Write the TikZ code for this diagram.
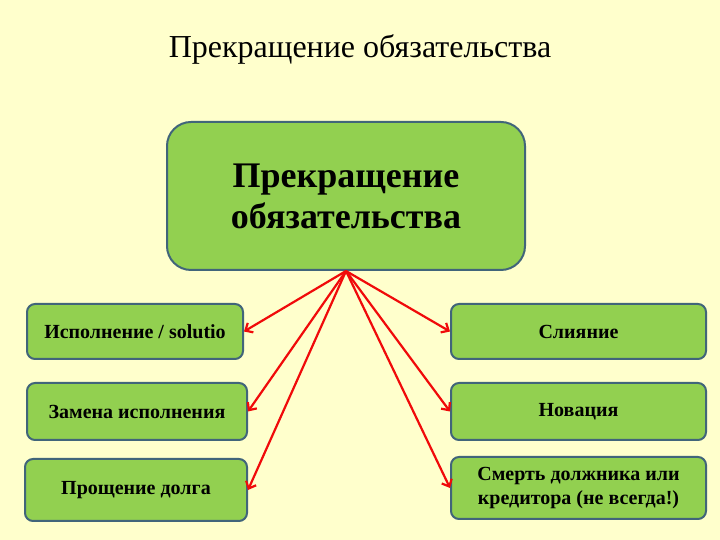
\documentclass[tikz,border=0pt]{standalone}
\usepackage{fontspec}
\setmainfont{Liberation Serif}
\usetikzlibrary{arrows.meta}
\definecolor{bg}{HTML}{FFFFCC}
\definecolor{boxfill}{HTML}{92D050}
\definecolor{boxline}{HTML}{41657A}
\definecolor{arr}{HTML}{F00A0A}
\tikzset{
  mainbox/.style={draw=boxline, fill=boxfill, line width=2pt, rounded corners=24pt, inner sep=0pt, align=center, font=\fontsize{36}{41}\selectfont\bfseries},
  subbox/.style={draw=boxline, fill=boxfill, line width=2pt, rounded corners=8pt, inner sep=0pt, align=center, font=\fontsize{20}{24}\selectfont\bfseries},
  conn/.style={draw=arr, line width=2.2pt, -{Straight Barb[length=6pt,width=11pt]}},
}
\begin{document}
\begin{tikzpicture}[x=1pt,y=1pt]
\fill[bg] (0,0) rectangle (720,540);
\useasboundingbox (0,0) rectangle (720,540);
\node (title) at (360,491) {\fontsize{32}{36}\selectfont Прекращение обязательства};
\node[mainbox, minimum width=358pt, minimum height=148pt] (main) at (346,344) {Прекращение\\обязательства};
\node[subbox, minimum width=216pt, minimum height=55pt] (l1) at (135,208.5) {Исполнение / solutio};
\node[subbox, minimum width=220pt, minimum height=57pt] (l2) at (137,128.5) {Замена исполнения};
\node[subbox, minimum width=222pt, minimum height=62pt] (l3) at (136,50) {Прощение долга};
\node[subbox, minimum width=255pt, minimum height=55pt] (r1) at (578.5,208.5) {Слияние};
\node[subbox, minimum width=255pt, minimum height=57pt] (r2) at (578.5,128.5) {Новация};
\node[subbox, minimum width=255pt, minimum height=62pt] (r3) at (578.5,52) {Смерть должника или\\кредитора (не всегда!)};
\foreach \t in {l1,l2,l3} \draw[conn] (main.south) -- (\t.east);
\foreach \t in {r1,r2,r3} \draw[conn] (main.south) -- (\t.west);
\end{tikzpicture}
\end{document}
